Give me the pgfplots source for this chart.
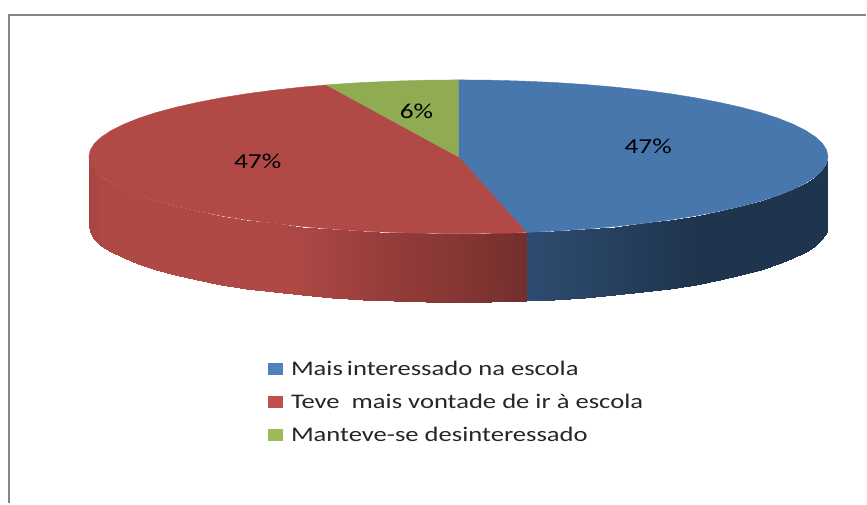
\documentclass[border=0pt]{standalone}
\usepackage{pgfplots}
\pgfplotsset{compat=1.18}
\usepackage{fontspec}
\setmainfont[FakeStretch=1.28]{Carlito}
\definecolor{blueTop}{HTML}{4877AE}
\definecolor{redTop}{HTML}{B14A47}
\definecolor{greenTop}{HTML}{8FAC53}
\definecolor{redA}{HTML}{AF4946}
\definecolor{redB}{HTML}{742E2C}
\definecolor{blueA}{HTML}{2E4C70}
\definecolor{blueB}{HTML}{1F344D}
\definecolor{legBlue}{HTML}{4F81BD}
\definecolor{legRed}{HTML}{C0504D}
\definecolor{legGreen}{HTML}{9BBB59}
\definecolor{frameGray}{HTML}{868686}
\pgfplotstableread{
x y c
527 232.7 1
554.8 231.4 0.84
585.5 229.4 0.66
615.4 226.8 0.49
644 223.7 0.32
671.2 220.1 0.16
696.8 216 0
720.6 211.4 0
742.4 206.5 0
762.1 201.2 0
779.4 195.5 0
794.3 189.5 0
806.7 183.3 0
816.4 176.9 0
823.4 170.4 0
827.6 163.7 0
829 157 0
527 301.7 1
554.8 300.4 0.84
585.5 298.4 0.66
615.4 295.8 0.49
644 292.7 0.32
671.2 289.1 0.16
696.8 285 0
720.6 280.4 0
742.4 275.5 0
762.1 270.2 0
779.4 264.5 0
794.3 258.5 0
806.7 252.3 0
816.4 245.9 0
823.4 239.4 0
827.6 232.7 0
829 226 0
}\bluewall
\pgfplotstableread{
x y c
89 157 0.85
90.4 163.7 0.87
94.6 170.4 0.9
101.6 176.9 0.95
111.3 183.3 0.98
123.7 189.5 1
138.6 195.5 1
155.9 201.2 1
175.6 206.5 1
197.4 211.4 1
221.2 216 1
246.8 220.1 1
274 223.7 1
302.6 226.8 0.93
332.5 229.4 0.8
363.2 231.4 0.66
394.8 232.8 0.52
426.8 233.7 0.42
459 234 0.3
491.2 233.7 0.15
527 232.7 0
89 226 0.85
90.4 232.7 0.87
94.6 239.4 0.9
101.6 245.9 0.95
111.3 252.3 0.98
123.7 258.5 1
138.6 264.5 1
155.9 270.2 1
175.6 275.5 1
197.4 280.4 1
221.2 285 1
246.8 289.1 1
274 292.7 1
302.6 295.8 0.93
332.5 298.4 0.8
363.2 300.4 0.66
394.8 301.8 0.52
426.8 302.7 0.42
459 303 0.3
491.2 302.7 0.15
527 301.7 0
}\redwall
\begin{document}
\begin{tikzpicture}
\begin{axis}[
  scale only axis, width=650.25pt, height=378pt,
  xmin=0, xmax=867, ymin=0, ymax=504, y dir=reverse,
  hide axis, clip=false,
  legend cell align=left,
  legend style={at={(axis cs:265.5,355.5)},anchor=north west,draw=none,fill=none,
    font=\fontsize{15.6}{18}\selectfont\color{black!85},row sep=8.5pt,inner sep=2pt},
  legend image code/.code={\draw[#1,line width=0pt] (0pt,-4pt) rectangle (11pt,4pt);
    \path[draw=none,fill=none] (0pt,0pt) -- (15.2pt,0pt);},
  colormap={bluecm}{color=(blueB) color=(blueA)},
  colormap={redcm}{color=(redB) color=(redA)},
]
% page corners
\addplot[forget plot,draw=none,fill=white] coordinates {(0,0)(867,0)(867,504)(0,504)} --cycle;
% side walls
\addplot[forget plot,surf,shader=interp,colormap name=bluecm,mesh/rows=2,point meta=explicit,point meta min=0,point meta max=1] table[x=x,y=y,meta=c] {\bluewall};
\addplot[forget plot,surf,shader=interp,colormap name=redcm,mesh/rows=2,point meta=explicit,point meta min=0,point meta max=1] table[x=x,y=y,meta=c] {\redwall};
% top face: blue slice
\addplot[forget plot,fill=blueTop,draw=blueTop,line width=0.3pt] coordinates {
 (459,157)(459,80)(491.2,80.3)(523.2,81.2)(554.8,82.6)(585.5,84.6)(615.4,87.2)(644,90.3)
 (671.2,93.9)(696.8,98)(720.6,102.6)(742.4,107.5)(762.1,112.8)(779.4,118.5)(794.3,124.5)
 (806.7,130.7)(816.4,137.1)(823.4,143.6)(827.6,150.3)(829,157)
 (827.6,163.7)(823.4,170.4)(816.4,176.9)(806.7,183.3)(794.3,189.5)(779.4,195.5)(762.1,201.2)
 (742.4,206.5)(720.6,211.4)(696.8,216)(671.2,220.1)(644,223.7)(615.4,226.8)(585.5,229.4)
 (554.8,231.4)(527,232.7)} --cycle;
% top face: red slice
\addplot[forget plot,fill=redTop,draw=redTop,line width=0.3pt] coordinates {
 (459,157)(527,232.7)(509,233.4)(491.2,233.7)(459,234)(426.8,233.7)(394.8,232.8)(363.2,231.4)
 (332.5,229.4)(302.6,226.8)(274,223.7)(246.8,220.1)(221.2,216)(197.4,211.4)(175.6,206.5)
 (155.9,201.2)(138.6,195.5)(123.7,189.5)(111.3,183.3)(101.6,176.9)(94.6,170.4)(90.4,163.7)
 (89,157)(90.4,150.3)(94.6,143.6)(101.6,137.1)(111.3,130.7)(123.7,124.5)(138.6,118.5)
 (155.9,112.8)(175.6,107.5)(197.4,102.6)(221.2,98)(246.8,93.9)(274,90.3)(302.6,87.2)(327,85.1)} --cycle;
% top face: green slice
\addplot[forget plot,fill=greenTop,draw=greenTop,line width=0.3pt] coordinates {
 (459,157)(327,85.1)(332.5,84.6)(363.2,82.6)(394.8,81.2)(426.8,80.3)(459,80)} --cycle;
% legend
\addlegendimage{fill=legBlue,draw=legBlue}
\addlegendentry{Mais\kern-1.5pt\ interessado na escola}
\addlegendimage{fill=legRed,draw=legRed}
\addlegendentry{Teve\ \ mais vontade de ir à escola}
\addlegendimage{fill=legGreen,draw=legGreen}
\addlegendentry{Manteve-se desinteressado}
% labels
\node[font=\fontsize{16}{18}\selectfont] at (axis cs:649,147) {47\%};
\node[font=\fontsize{16}{18}\selectfont] at (axis cs:258,162) {47\%};
\node[font=\fontsize{16}{18}\selectfont] at (axis cs:417,111) {6\%};
% frame
\addplot[forget plot,draw=frameGray,line width=1.6pt] coordinates {(9.3,504)(9.3,15)(867,15)};
\end{axis}
\end{tikzpicture}
\end{document}
